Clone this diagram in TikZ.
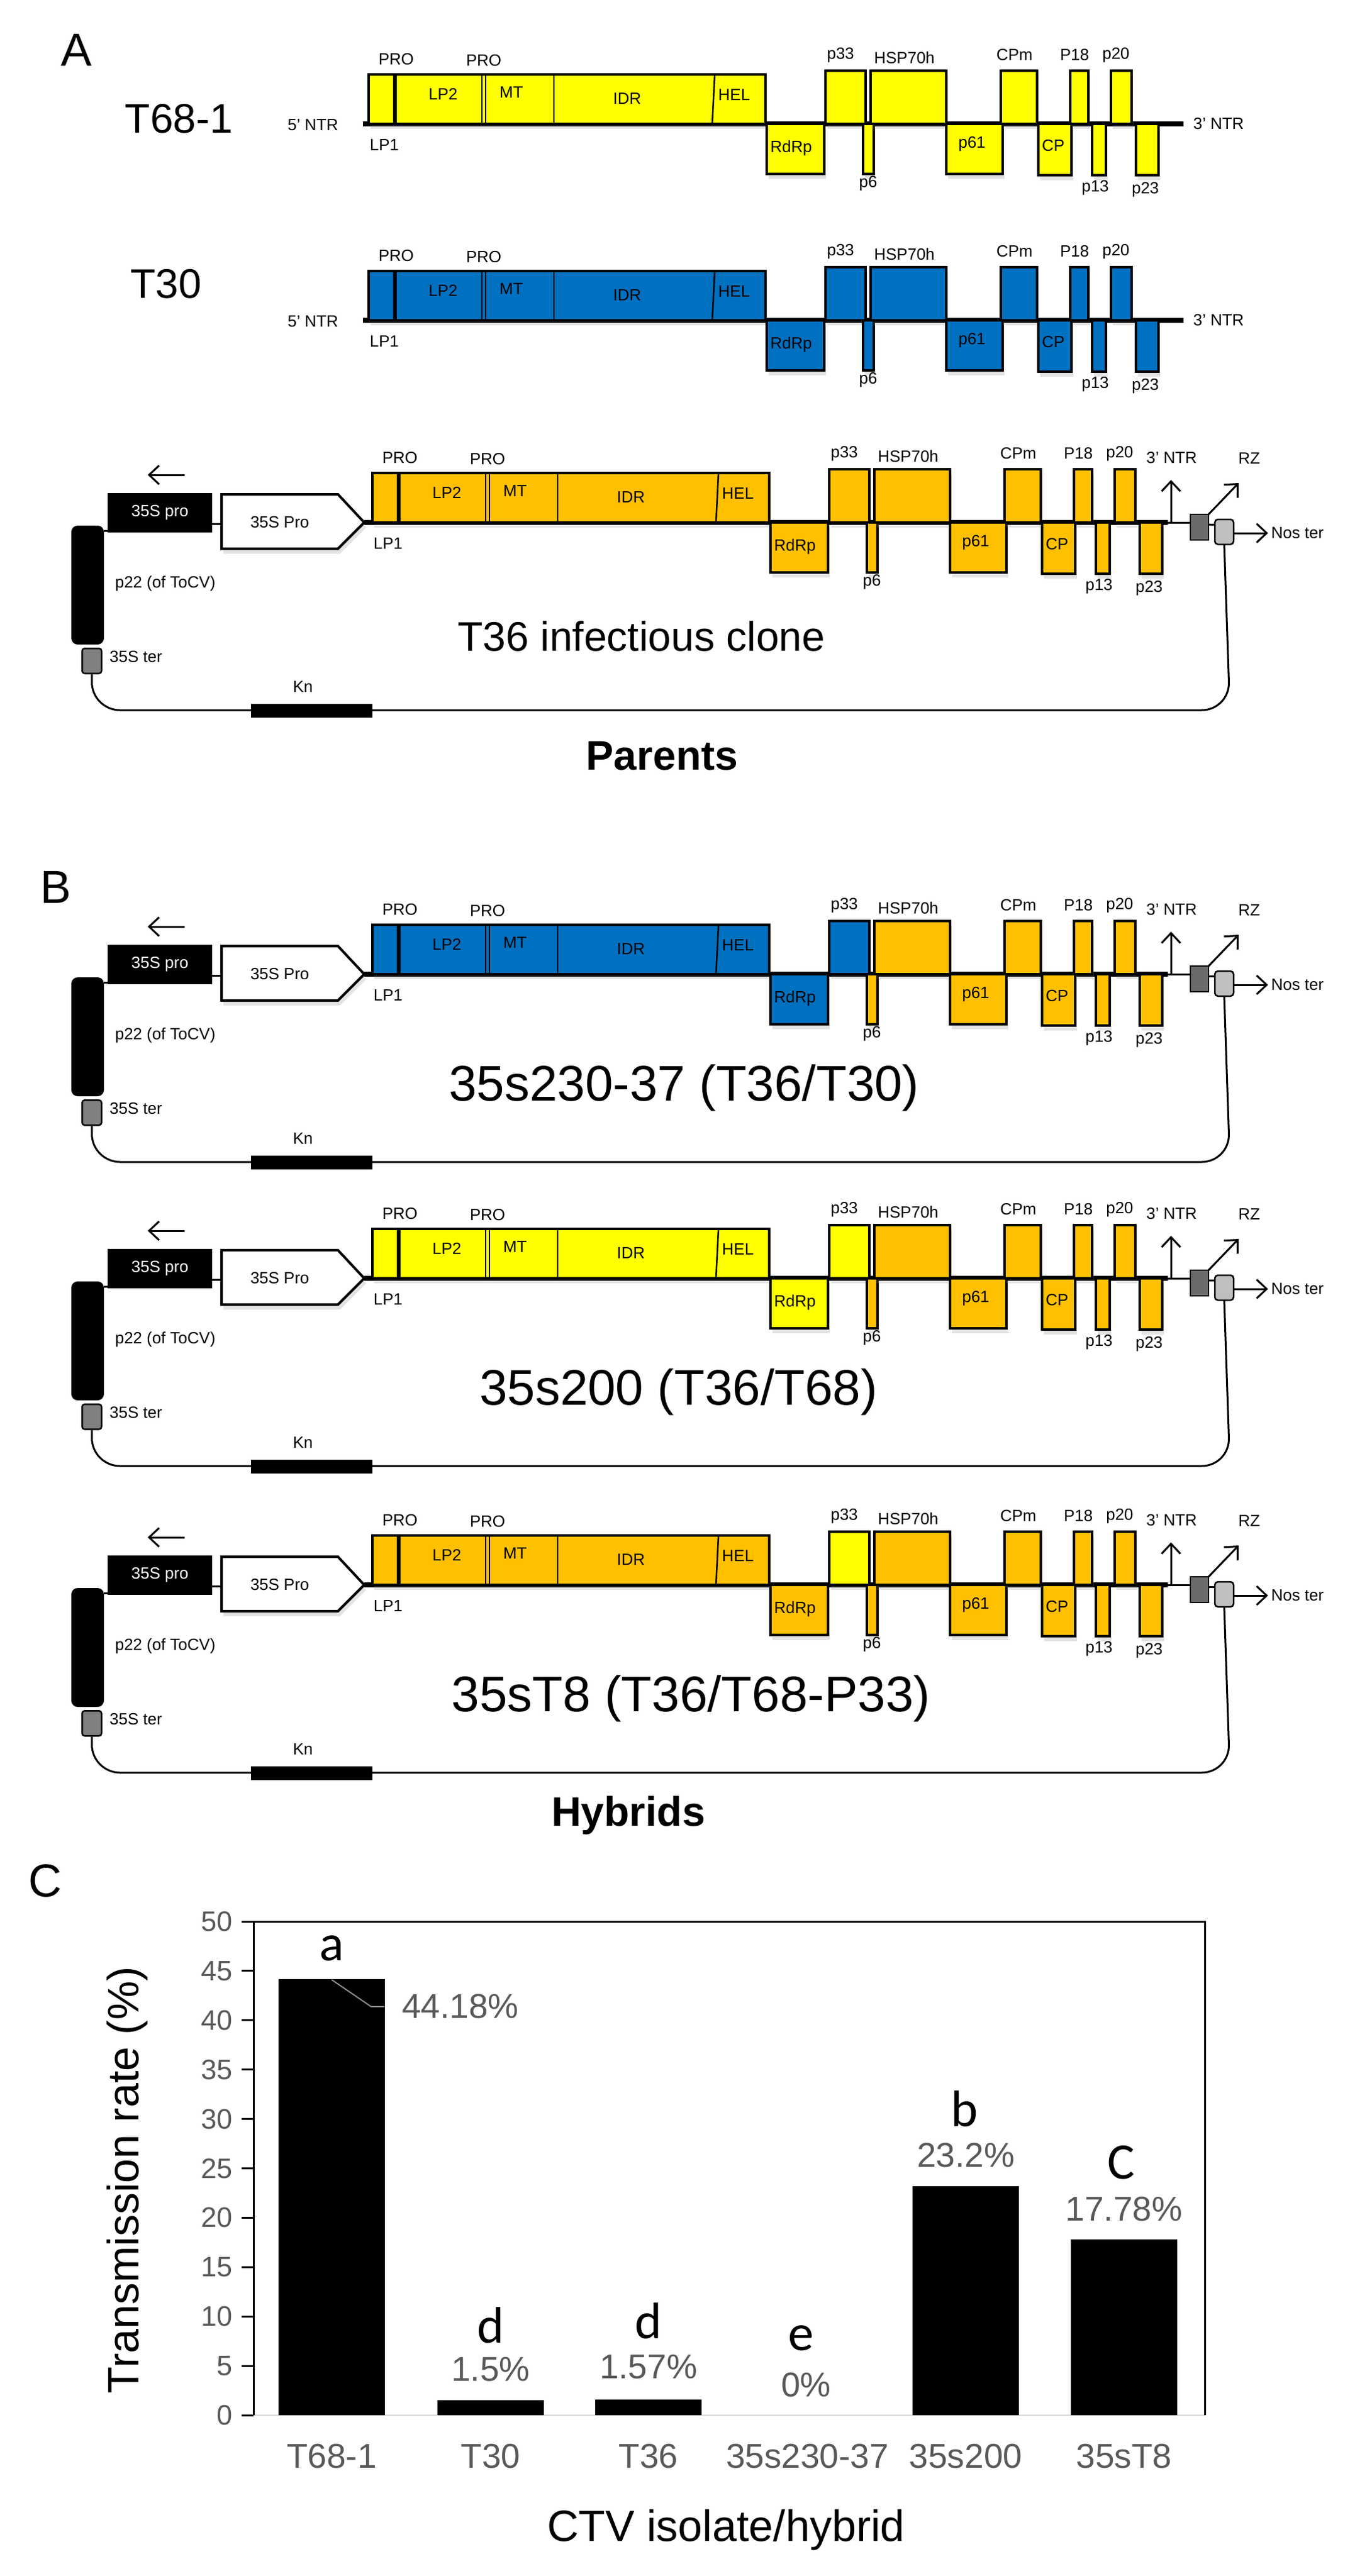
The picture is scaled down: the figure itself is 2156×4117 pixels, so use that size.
\documentclass[tikz,border=0pt]{standalone}
\usepackage{fontspec}
\setmainfont{Liberation Sans}
\newfontfamily\carl{Carlito}
\usetikzlibrary{arrows.meta,shadows}
\definecolor{cy}{HTML}{FFFF00}
\definecolor{cb}{HTML}{0070C0}
\definecolor{co}{HTML}{FFC000}
\definecolor{gtxt}{HTML}{595959}
\tikzset{
 gbox/.style={draw,line width=3.5,inner sep=0,outer sep=0,drop shadow={shadow xshift=3pt,shadow yshift=-8pt,opacity=.22}},
 lab/.style={font=\fontsize{26}{30}\selectfont,inner sep=0},
 bb/.style={line width=8},
 arr/.style={line width=3,-{Straight Barb[length=16,width=30,line width=3]}},
 tick/.style={font=\fontsize{45}{50}\selectfont,text=gtxt,anchor=east,inner sep=0},
 cat/.style={font=\fontsize{55}{60}\selectfont,text=gtxt,inner sep=0},
 val/.style={font=\fontsize{55}{60}\selectfont,text=gtxt,inner sep=0},
 let/.style={font=\carl\fontsize{82}{86}\selectfont,inner sep=0},
 bar/.style={fill=black,inner sep=0,outer sep=0,minimum width=170,anchor=south},
}
\newcommand\lbl[4]{\node[lab] (#1) at (#2,#3) {#4};}
% #1 prefix, #2 xoff, #3 yb, #4 replicase col, #5 RdRp col, #6 p33 col, #7 rest col
\newcommand\ctvgenome[7]{%
\begin{scope}[shift={(#2,#3)}]
\node[gbox,fill=#4,minimum width=634,minimum height=79,anchor=south west] (#1rep) at (589,0) {};
\draw[line width=6] (631,-79) -- (631,0);
\draw[line width=2] (770,-79) -- (770,0) (776,-79) -- (776,0);
\draw[line width=2.5] (885,-79) -- (885,0);
\draw[line width=2.5] (1142,-79) -- (1138,0);
\node[gbox,fill=#5,minimum width=92,minimum height=80,anchor=north west] (#1rdrp) at (1225,0) {};
\node[gbox,fill=#6,minimum width=64,minimum height=85,anchor=south west] (#1p33) at (1319,0) {};
\node[gbox,fill=#7,minimum width=17,minimum height=80,anchor=north west] (#1p6) at (1379,0) {};
\node[gbox,fill=#7,minimum width=121,minimum height=85,anchor=south west] (#1hsp) at (1391,0) {};
\node[gbox,fill=#7,minimum width=90,minimum height=80,anchor=north west] (#1p61) at (1512,0) {};
\node[gbox,fill=#7,minimum width=58,minimum height=85,anchor=south west] (#1cpm) at (1599,0) {};
\node[gbox,fill=#7,minimum width=53,minimum height=82,anchor=north west] (#1cp) at (1659,0) {};
\node[gbox,fill=#7,minimum width=29,minimum height=85,anchor=south west] (#1p18) at (1710,0) {};
\node[gbox,fill=#7,minimum width=22,minimum height=82,anchor=north west] (#1p13) at (1745,0) {};
\node[gbox,fill=#7,minimum width=33,minimum height=85,anchor=south west] (#1p20) at (1775,0) {};
\node[gbox,fill=#7,minimum width=36,minimum height=82,anchor=north west] (#1p23) at (1815,0) {};
\lbl{#1tpro1}{633}{-103}{PRO}
\lbl{#1tpro2}{773}{-101}{PRO}
\lbl{#1tlp2}{708}{-48}{LP2}
\lbl{#1tmt}{817}{-50}{MT}
\lbl{#1tidr}{1002}{-40}{IDR}
\lbl{#1thel}{1173}{-46}{HEL}
\lbl{#1tlp1}{614}{34}{LP1}
\lbl{#1trdrp}{1264}{39}{RdRp}
\lbl{#1tp33}{1343}{-110}{p33}
\lbl{#1thsp}{1445}{-106}{HSP70h}
\lbl{#1tp6}{1387}{95}{p6}
\lbl{#1tp61}{1553}{32}{p61}
\lbl{#1tcpm}{1621}{-110}{CPm}
\lbl{#1tcp}{1683}{35}{CP}
\lbl{#1tp18}{1717}{-110}{P18}
\lbl{#1tp13}{1750}{102}{p13}
\lbl{#1tp20}{1783}{-110}{p20}
\lbl{#1tp23}{1830}{105}{p23}
\end{scope}}
% #1 prefix, #2 yb, #3 title, #4 title size, #5 title x
\newcommand\construct[5]{%
\begin{scope}[shift={(0,#2)}]
\draw[line width=3] (339,2) -- (354,2);
\node[fill=black,inner sep=0,outer sep=0,minimum width=167,minimum height=63,anchor=north west,
  text=white,font=\fontsize{26}{30}\selectfont] (#1pro) at (172,-47) {35S pro};
\coordinate (#1a1) at (295,-76); \coordinate (#1a2) at (236,-76);
\draw[arr] (#1a1) -- (#1a2);
\draw[line width=4,fill=white,drop shadow={shadow xshift=3pt,shadow yshift=-8pt,opacity=.22}]
  (354,-45) -- (540,-45) -- (582,0) -- (540,42) -- (354,42) -- cycle;
\node[lab] (#1penta) at (447,0) {35S Pro};
\node[fill=black,rounded corners=10,inner sep=0,outer sep=0,minimum width=52,minimum height=190,anchor=north west] (#1p22) at (114,5) {};
\node[draw,line width=2.5,fill=gray,rounded corners=4,inner sep=0,minimum width=31,minimum height=40,anchor=north west] (#1ter) at (130,200) {};
\node[fill=black,inner sep=0,minimum width=194,minimum height=22,anchor=north west] (#1kn) at (401,290) {};
\lbl{#1tkn}{484}{263}{Kn}
\lbl{#1tp22}{264}{98}{p22 (of ToCV)}
\node[lab,anchor=west] (#1tter) at (175,215) {35S ter};
\draw[bb] (582,0) -- (1866,0);
\draw[line width=3] (1866,0) -- (1902,0);
\node[draw,line width=2.5,fill=black!58,inner sep=0,outer sep=0,minimum width=29,minimum height=41,anchor=north west] (#1dk) at (1902,-13) {};
\node[draw,line width=2.5,fill=black!25,rounded corners=5,inner sep=0,outer sep=0,minimum width=30,minimum height=40,anchor=north west] (#1lt) at (1941,-5) {};
\draw[line width=3] (#1dk.east |- 0,3) -- (#1lt.west |- 0,3);
\draw[line width=3,rounded corners=45] (#1ter.south) |- (1965,300) -- (#1lt.south);
\draw[line width=3] (#1p22.north east) ++(0,8) -- (#1pro.south west |- 0,13);
\coordinate (#1n1) at (1871,0); \coordinate (#1n2) at (1871,-68);
\draw[arr] (#1n1) -- (#1n2);
\lbl{#1tntr}{1872}{-103}{3' NTR}
\coordinate (#1r2) at (1979,-63);
\draw[arr] (#1dk.north east) -- (#1r2);
\lbl{#1trz}{1996}{-102}{RZ}
\coordinate (#1s2) at (2026,17);
\draw[arr] (#1lt.east |- 0,17) -- (#1s2);
\node[lab,anchor=west] (#1tnos) at (2031,17) {Nos ter};
\node[inner sep=0,font=\fontsize{#4}{#4}\selectfont] (#1title) at (#5,182) {#3};
\end{scope}}
\begin{document}
\begin{tikzpicture}[x=1pt,y=-1pt]
\useasboundingbox[fill=white] (0,0) rectangle (2156,4117);
% ---------- Panel A ----------
\node[font=\fontsize{74}{74}\selectfont,inner sep=0] (lA) at (122,80) {A};
% T68-1
\node[font=\fontsize{66}{66}\selectfont,inner sep=0] (n681) at (286,190) {T68-1};
\draw[bb] (580,198) -- (1891,198);
\ctvgenome{a}{0}{198}{cy}{cy}{cy}{cy}
\lbl{a5}{500}{200}{5' NTR}
\lbl{a3}{1947}{198}{3' NTR}
% T30
\node[font=\fontsize{66}{66}\selectfont,inner sep=0] (n30) at (265,454) {T30};
\draw[bb] (580,512) -- (1891,512);
\ctvgenome{b}{0}{512}{cb}{cb}{cb}{cb}
\lbl{b5}{500}{514}{5' NTR}
\lbl{b3}{1947}{512}{3' NTR}
% T36 clone
\construct{c}{835}{T36 infectious clone}{66}{1025}
\ctvgenome{c}{6}{835}{co}{co}{co}{co}
\node[font=\bfseries\fontsize{66}{66}\selectfont,inner sep=0] (parents) at (1058,1208) {Parents};
% ---------- Panel B ----------
\node[font=\fontsize{74}{74}\selectfont,inner sep=0] (lB) at (89,1418) {B};
\construct{d}{1557}{35s230-37 (T36/T30)}{80}{1093}
\ctvgenome{d}{6}{1557}{cb}{cb}{cb}{co}
\construct{e}{2043}{35s200 (T36/T68)}{80}{1084}
\ctvgenome{e}{6}{2043}{cy}{cy}{cy}{co}
\construct{f}{2533}{35sT8 (T36/T68-P33)}{80}{1104}
\ctvgenome{f}{6}{2533}{co}{co}{cy}{co}
\node[font=\bfseries\fontsize{66}{66}\selectfont,inner sep=0] (hybrids) at (1004,2901) {Hybrids};
% ---------- Panel C ----------
\node[font=\fontsize{74}{74}\selectfont,inner sep=0] (lC) at (72,3006) {C};
\draw[black!15,line width=2] (405,3860) -- (1925,3860);
\draw[line width=3] (386,3071) -- (1925,3071) -- (1925,3860);
\draw[line width=3] (405,3071) -- (405,3860);
\foreach \v in {0,5,...,50} {
  \draw[line width=3] (386,3860-15.78*\v) -- (405,3860-15.78*\v);
  \node[tick] (tk\v) at (372,3860-15.78*\v) {\v};
}
\node[bar,minimum height=697] (b1) at (530,3860) {};
\node[bar,minimum height=24] (b2) at (784,3860) {};
\node[bar,minimum height=25] (b3) at (1036,3860) {};
\node[bar,minimum height=366] (b5) at (1543,3860) {};
\node[bar,minimum height=281] (b6) at (1796,3860) {};
\coordinate (ld1) at (593,3207); \coordinate (ld2) at (614,3207);
\draw[black!45,line width=2] (530,3164) -- (ld1) -- (ld2);
\node[let] (la) at (530,3114) {a};
\node[val,anchor=west] (va) at (642,3207) {44.18\%};
\node[let] (ld) at (784,3716) {d};
\node[val] (vb) at (784,3787) {1.5\%};
\node[let] (ld3) at (1036,3709) {d};
\node[val] (vc) at (1036,3783) {1.57\%};
\node[let] (le) at (1280,3737) {e};
\node[val] (vd) at (1288,3812) {0\%};
\node[let] (lb) at (1541,3370) {b};
\node[val] (ve) at (1543,3445) {23.2\%};
\node[let] (lc) at (1791,3456) {C};
\node[val] (vf) at (1796,3531) {17.78\%};
\node[cat] (c1) at (530,3926) {T68-1};
\node[cat] (c2) at (784,3926) {T30};
\node[cat] (c3) at (1036,3926) {T36};
\node[cat] (c4) at (1290,3926) {35s230-37};
\node[cat] (c5) at (1543,3926) {35s200};
\node[cat] (c6) at (1796,3926) {35sT8};
\node[font=\fontsize{70}{70}\selectfont,inner sep=0] (xt) at (1160,4043) {CTV isolate/hybrid};
\node[font=\fontsize{70}{70}\selectfont,inner sep=0,rotate=90] (yt) at (203,3484) {Transmission rate (\%)};
\end{tikzpicture}
\end{document}
